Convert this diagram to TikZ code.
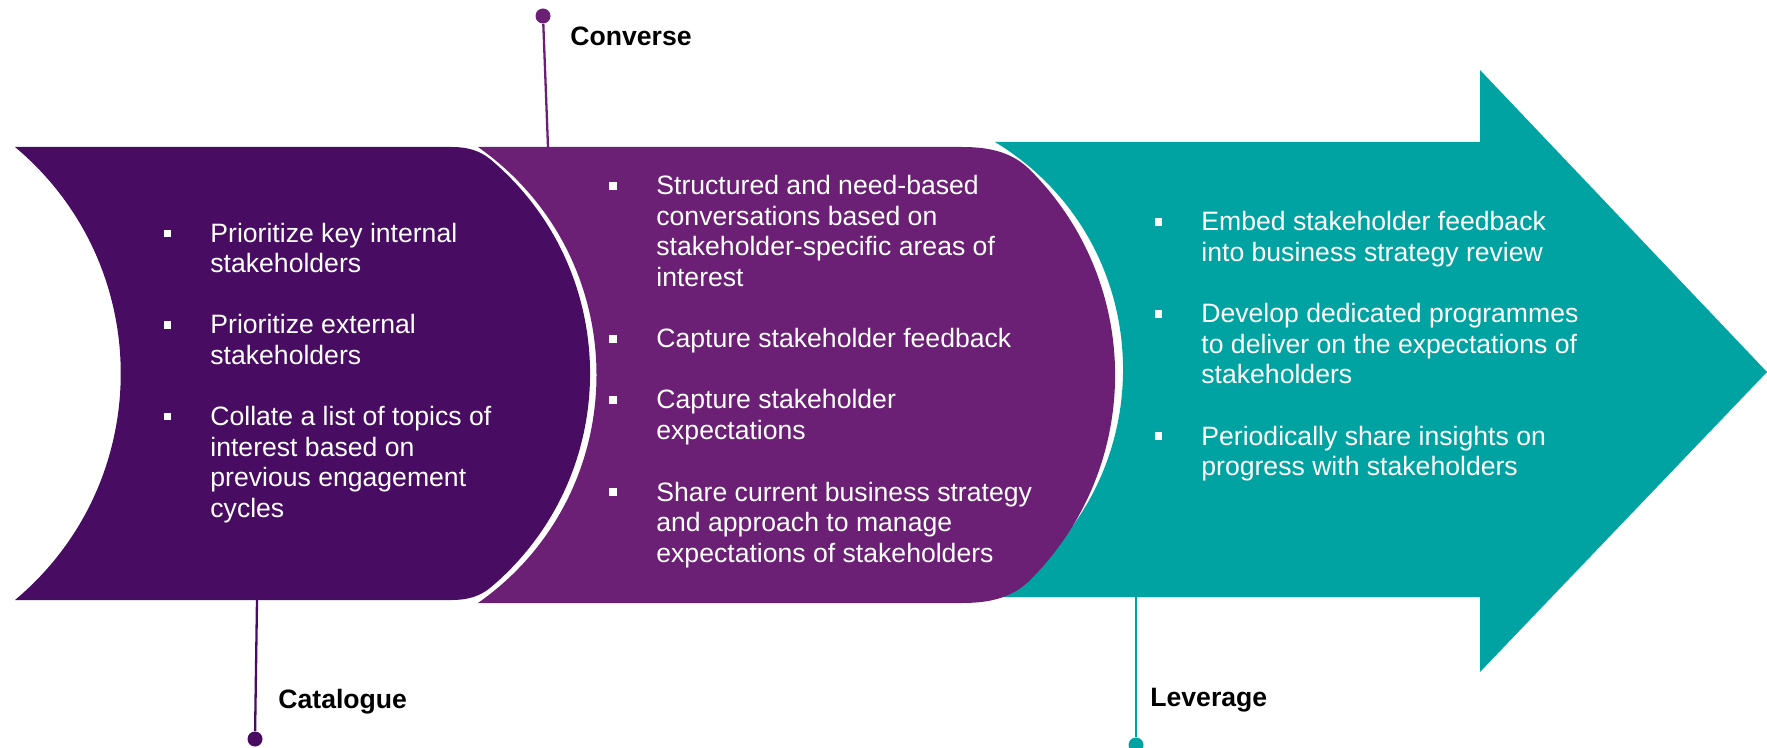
\documentclass[tikz,border=0pt]{standalone}
\usepackage{fontspec}
\setmainfont{Liberation Sans}
\definecolor{darkpurple}{HTML}{480C62}
\definecolor{midpurple}{HTML}{6B1F75}
\definecolor{tealc}{HTML}{00A3A1}
\begin{document}
\begin{tikzpicture}[x=0.5pt,y=-0.5pt,
  item/.style={anchor=base west, inner sep=0pt, align=left, text=white,
    font=\fontsize{13.3}{15.25}\selectfont},
  bul/.style={rectangle, fill=white, inner sep=0pt, minimum size=3.6pt},
  lbl/.style={anchor=base west, inner sep=0pt, text=black,
    font=\fontsize{13.3}{16}\selectfont\bfseries},
  dot/.style={circle, inner sep=0pt, minimum size=7.5pt},
  stem/.style={line width=1.15pt}]
\useasboundingbox (0,0) rectangle (1767,748);
% teal arrow
\fill[tealc] (995,142) -- (1480,142) -- (1480,70) -- (1767,372) -- (1480,672) -- (1480,597) -- (995,597)
  .. controls (1165.7,493.4) and (1165.7,245.6) .. (995,142) -- cycle;
% medium purple shape
\fill[midpurple] (478,147) -- (962,147) .. controls (990,147) and (1012.4,152.3) .. (1030.1,170)
  .. controls (1143.4,283.3) and (1143.4,466.7) .. (1030.1,580)
  .. controls (1012.4,597.7) and (990,603) .. (962,603) -- (478,603)
  .. controls (636,492) and (636,258) .. (478,147) -- cycle;
% dark purple shape
\fill[darkpurple] (15,147) -- (452,147) .. controls (467,147) and (479.8,150.3) .. (491.2,160)
  .. controls (623,271.9) and (623,475.1) .. (491.2,587)
  .. controls (479.8,596.7) and (467,600) .. (452,600) -- (15,600)
  .. controls (156,482) and (156,265) .. (15,147) -- cycle;

% stems and labels
\node[dot, fill=midpurple] (cdot) at (543,16) {};
\coordinate (ctop) at (548,147);
\draw[stem, midpurple] (cdot) -- (ctop);
\node[lbl] (clbl) at (570,46) {Converse};

\node[dot, fill=darkpurple] (kdot) at (255,739) {};
\coordinate (ktop) at (257,600);
\draw[stem, darkpurple] (ktop) -- (kdot);
\node[lbl] (klbl) at (278,708) {Catalogue};

\node[dot, fill=tealc] (ldot) at (1136,745) {};
\coordinate (ltop) at (1136,597);
\draw[stem, tealc] (ltop) -- (ldot);
\node[lbl] (llbl) at (1150,706) {Leverage};

% dark column (node placed at baseline of its last line)
\node[bul] (a1b) at (167.5,233.5) {};
\node[item] (a1) at (210,273) {Prioritize key internal\\stakeholders};
\node[bul] (a2b) at (167.5,325) {};
\node[item] (a2) at (210,364.5) {Prioritize external\\stakeholders};
\node[bul] (a3b) at (167.5,416.5) {};
\node[item] (a3) at (210,517) {Collate a list of topics of\\interest based on\\previous engagement\\cycles};

% medium column
\node[bul] (b1b) at (613,186) {};
\node[item] (b1) at (656,286.5) {Structured and need-based\\conversations based on\\stakeholder-specific areas of\\interest};
\node[bul] (b2b) at (613,339) {};
\node[item] (b2) at (656,348) {Capture stakeholder feedback};
\node[bul] (b3b) at (613,400) {};
\node[item] (b3) at (656,439.5) {Capture stakeholder\\expectations};
\node[bul] (b4b) at (613,492) {};
\node[item] (b4) at (656,562) {Share current business strategy\\and approach to manage\\expectations of stakeholders};

% teal column
\node[bul] (c1b) at (1158.5,222) {};
\node[item] (c1) at (1201,261.5) {Embed stakeholder feedback\\into business strategy review};
\node[bul] (c2b) at (1158.5,314) {};
\node[item] (c2) at (1201,384) {Develop dedicated programmes\\to deliver on the expectations of\\stakeholders};
\node[bul] (c3b) at (1158.5,436) {};
\node[item] (c3) at (1201,475.5) {Periodically share insights on\\progress with stakeholders};
\end{tikzpicture}
\end{document}
